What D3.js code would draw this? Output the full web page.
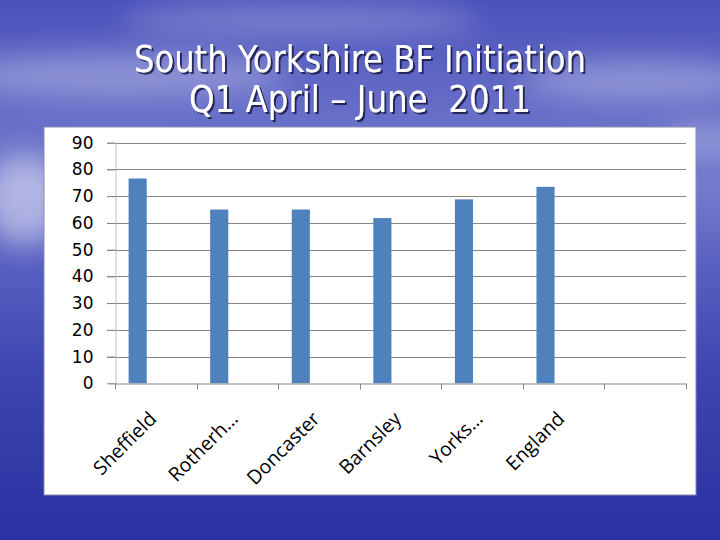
<!DOCTYPE html>
<html>
<head>
<meta charset="utf-8">
<script src="https://cdn.jsdelivr.net/npm/d3@7"></script>
<style>
  html, body { margin: 0; padding: 0; }
  body { width: 720px; height: 540px; overflow: hidden; }
</style>
</head>
<body>
<div id="chart"></div>
<script>
// data
const titleLines = ["South Yorkshire BF Initiation", "Q1 April \u2013 June  2011"];
const categories = ["Sheffield", "Rotherh\u2026", "Doncaster", "Barnsley", "Yorks\u2026", "England", ""];
const values = [76.6, 65, 65, 61.8, 68.8, 73.5, null];
const yTicks = [0, 10, 20, 30, 40, 50, 60, 70, 80, 90];

const W = 720, H = 540;
const svg = d3.select("#chart").append("svg")
  .attr("width", W)
  .attr("height", H);

const defs = svg.append("defs");

// sky / water backdrop
const bg = defs.append("linearGradient").attr("id", "bg")
  .attr("x1", 0).attr("y1", 0).attr("x2", 0).attr("y2", 1);
[[0, "#4a52bb"], [0.18, "#646bc6"], [0.35, "#747bcd"], [0.5, "#575fc0"], [0.7, "#3c45b0"], [1, "#2a31a2"]]
  .forEach(([o, c]) => bg.append("stop").attr("offset", o).attr("stop-color", c));

const blur = defs.append("filter").attr("id", "blur")
  .attr("x", "-50%").attr("y", "-50%").attr("width", "200%").attr("height", "200%");
blur.append("feGaussianBlur").attr("stdDeviation", 14);

const shadow = defs.append("filter").attr("id", "tshadow");
shadow.append("feDropShadow").attr("dx", 2).attr("dy", 2).attr("stdDeviation", 0.6)
  .attr("flood-color", "#1a1a50").attr("flood-opacity", 0.9);

svg.append("rect").attr("width", W).attr("height", H).attr("fill", "url(#bg)");

// soft clouds
const clouds = [
  { cx: 120, cy: 75, rx: 170, ry: 22, o: 0.3 },
  { cx: 300, cy: 20, rx: 180, ry: 16, o: 0.25 },
  { cx: 640, cy: 80, rx: 120, ry: 20, o: 0.3 },
  { cx: 25, cy: 200, rx: 40, ry: 45, o: 0.45 },
  { cx: 710, cy: 140, rx: 50, ry: 18, o: 0.25 }
];
svg.append("g").attr("filter", "url(#blur)")
  .selectAll("ellipse").data(clouds).join("ellipse")
  .attr("cx", d => d.cx).attr("cy", d => d.cy)
  .attr("rx", d => d.rx).attr("ry", d => d.ry)
  .attr("fill", "#ffffff").attr("opacity", d => d.o);

// title
const title = svg.append("g").attr("filter", "url(#tshadow)");
title.selectAll("text").data(titleLines).join("text")
  .attr("x", 360)
  .attr("y", (d, i) => 72 + i * 40)
  .attr("text-anchor", "middle")
  .attr("textLength", (d, i) => i === 0 ? 452 : 342)
  .attr("lengthAdjust", "spacingAndGlyphs")
  .style("white-space", "pre")
  .style("font-family", "'DejaVu Sans Condensed', 'DejaVu Sans', sans-serif")
  .style("font-size", "38px")
  .style("fill", "#ffffff")
  .text(d => d);

// chart panel
svg.append("rect")
  .attr("x", 44).attr("y", 127).attr("width", 652).attr("height", 368)
  .attr("fill", "#ffffff")
  .attr("stroke", "#8a8ab0").attr("stroke-width", 1);

const margin = { left: 115, right: 686, top: 142.7, bottom: 383.3 };

const x = d3.scaleBand()
  .domain(categories.map((d, i) => i))
  .range([margin.left, margin.right]);

const y = d3.scaleLinear()
  .domain([0, 90])
  .range([margin.bottom, margin.top]);

// gridlines (extend to the left as tick marks)
svg.append("g")
  .selectAll("line").data(yTicks.slice(1)).join("line")
  .attr("x1", margin.left - 8).attr("x2", margin.right)
  .attr("y1", d => Math.round(y(d)) + 0.5).attr("y2", d => Math.round(y(d)) + 0.5)
  .attr("stroke", "#868686").attr("stroke-width", 1);

// y axis
const yAxis = d3.axisLeft(y).tickValues(yTicks).tickSize(8).tickPadding(14);
const yg = svg.append("g")
  .attr("transform", `translate(${margin.left + 0.5},0)`)
  .call(yAxis);
yg.select(".domain").attr("stroke", "#bfbfbf");
yg.selectAll(".tick line").attr("stroke", "#868686");
yg.selectAll(".tick text")
  .style("font-family", "'DejaVu Sans', sans-serif")
  .style("font-size", "17px")
  .attr("fill", "#000");

// bars: first of three series slots, Excel-style gap
const slot = x.bandwidth() / 4.5;
svg.append("g")
  .selectAll("rect").data(values.map((v, i) => ({ v, i })).filter(d => d.v != null)).join("rect")
  .attr("x", d => x(d.i) + slot * 0.75)
  .attr("width", slot)
  .attr("y", d => y(d.v))
  .attr("height", d => y(0) - y(d.v))
  .attr("fill", "#4f81bd");

// x axis
const xAxis = d3.axisBottom(x).tickSize(0).tickFormat(() => "");
const xg = svg.append("g")
  .attr("transform", `translate(0,${Math.round(y(0)) + 0.5})`)
  .call(xAxis);
xg.select(".domain").attr("stroke", "#868686");
xg.selectAll(".edge").data(d3.range(categories.length + 1)).join("line")
  .attr("class", "edge")
  .attr("x1", i => Math.round(margin.left + i * x.step()) + 0.5)
  .attr("x2", i => Math.round(margin.left + i * x.step()) + 0.5)
  .attr("y1", 0).attr("y2", 6)
  .attr("stroke", "#868686");

svg.append("g")
  .selectAll("text").data(categories.map((c, i) => ({ c, i }))).join("text")
  .attr("transform", d => `translate(${x(d.i) + x.bandwidth() / 2 + 2},${420}) rotate(-45)`)
  .attr("text-anchor", "end")
  .style("font-family", "'Open Sans', sans-serif")
  .style("font-size", "19.5px")
  .attr("fill", "#000")
  .text(d => d.c);
</script>
</body>
</html>
